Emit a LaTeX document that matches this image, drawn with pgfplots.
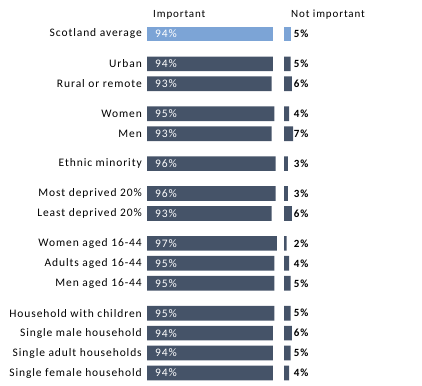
\documentclass[border=0pt]{standalone}
\usepackage{pgfplots}
\pgfplotsset{compat=1.18}
\usepackage{pgfplotstable}
\usepackage{fontspec}
\setmainfont{Carlito}[LetterSpace=8]
\definecolor{darkbar}{RGB}{69,83,104}
\definecolor{lightbar}{RGB}{124,164,214}
\pgfplotstableread{
pos imp notimp
0    94 5
1.5  94 5
2.5  93 6
4    95 4
5    93 7
6.5  96 3
8    96 3
9    93 6
10.5 97 2
11.5 95 4
12.5 95 5
14   95 5
15   94 6
16   94 5
17   94 4
}\datatable
\pgfplotstableread{
pos imp notimp
0    94 5
}\avgtable
\pgfplotstableread{
pos imp notimp
1.5  94 5
2.5  93 6
4    95 4
5    93 7
6.5  96 3
8    96 3
9    93 6
10.5 97 2
11.5 95 4
12.5 95 5
14   95 5
15   94 6
16   94 5
17   94 4
}\grouptable
\pgfplotsset{
  panel/.style={
    scale only axis,
    y dir=reverse,
    ymin=-0.5, ymax=17.5,
    height=359pt,
    xmin=0,
    xbar, bar width=14.7pt,
    bar shift=0pt,
    clip=false,
    /pgf/number format/assume math mode=true,
    axis x line=none,
    major tick length=0pt,
  }
}
\begin{document}
\begin{tikzpicture}[x=1pt,y=1pt]
\path[use as bounding box] (0,0) rectangle (422,-385);
\node[anchor=base west, font=\fontsize{11}{13}\selectfont, inner sep=0pt] at (153,-18) {Important};
\node[anchor=base west, font=\fontsize{11}{13}\selectfont, inner sep=0pt] at (291,-18) {Not important};
\begin{axis}[panel,
  at={(147pt,-383pt)}, anchor=south west,
  width=134pt, xmax=100,
  axis y line*=left, y axis line style={draw=none},
  ytick={0,1.5,2.5,4,5,6.5,8,9,10.5,11.5,12.5,14,15,16,17},
  yticklabels={Scotland average,Urban,Rural or remote,Women,Men,Ethnic minority,Most deprived 20\%,Least deprived 20\%,Women aged 16-44,Adults aged 16-44,Men aged 16-44,Household with children,Single male household,Single adult households,Single female household},
  yticklabel style={font=\fontsize{11.5}{13}\selectfont, inner sep=0pt, xshift=-5pt},
]
\addplot[fill=lightbar, draw=none] table[x=imp, y=pos] {\avgtable};
\addplot[fill=darkbar, draw=none] table[x=imp, y=pos] {\grouptable};
\addplot[draw=none, mark=none, fill=none,
  nodes near coords={\pgfmathprintnumber{\pgfplotspointmeta}\%},
  point meta=explicit,
  every node near coord/.append style={anchor=west, text=white, font=\fontsize{11.5}{13}\selectfont, inner sep=0pt}]
  table[x expr=6, y=pos, meta=imp] {\datatable};
\end{axis}
\begin{axis}[panel,
  at={(284pt,-383pt)}, anchor=south west,
  width=39pt, xmax=30,
  axis y line=none,
  ytick=\empty,
]
\addplot[fill=lightbar, draw=none] table[x=notimp, y=pos] {\avgtable};
\addplot[fill=darkbar, draw=none] table[x=notimp, y=pos] {\grouptable};
\addplot[draw=none, mark=none, fill=none,
  nodes near coords={\pgfmathprintnumber{\pgfplotspointmeta}\%},
  point meta=explicit,
  every node near coord/.append style={anchor=west, text=black, font=\bfseries\fontsize{11}{13}\selectfont, inner sep=0pt}]
  table[x expr=7.5, y=pos, meta=notimp] {\datatable};
\end{axis}
\end{tikzpicture}
\end{document}
